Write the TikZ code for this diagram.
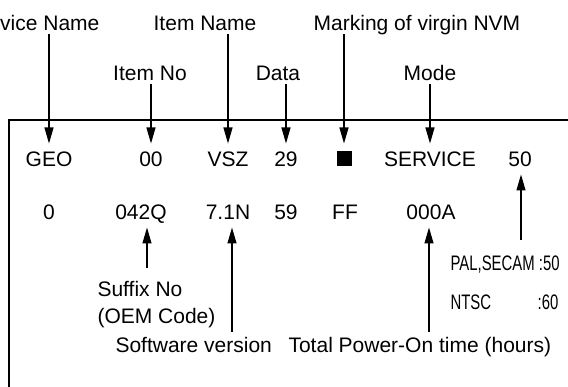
\documentclass[tikz,border=0pt]{standalone}
\usepackage{fontspec}
\setmainfont{Liberation Sans}
\usetikzlibrary{arrows.meta}

\begin{document}
\begin{tikzpicture}[x=1pt,y=-1pt,line width=1.1pt,
    txt/.style={font=\fontsize{21}{25}\selectfont,inner sep=0pt,text height=15pt,text depth=0pt},
    val/.style={txt,outer ysep=8pt},
    lbl/.style={txt,outer ysep=4pt},
    arr/.style={-{Triangle[length=16pt,width=9pt]}}]
  \useasboundingbox (0,0) rectangle (568,387);
  \draw (9,400) |- (580,120);
  % names above the box
  \node[lbl,anchor=east] (devname) at (100,23) {Device Name};
  \node[lbl] (itemname) at (205,23) {Item Name};
  \node[lbl] (marking) at (417,23) {Marking of virgin NVM};
  \node[lbl] (itemno) at (150,73) {Item No};
  \node[lbl] (data) at (278,73) {Data};
  \node[lbl] (mode) at (430,73) {Mode};
  % first line
  \node[val] (geo) at (49,159) {GEO};
  \node[val] (no) at (151,159) {00};
  \node[val] (vsz) at (228,159) {VSZ};
  \node[val] (dat) at (286,159) {29};
  \node[fill,minimum size=15pt,inner sep=0pt,outer ysep=8pt] (mark) at (344,159) {};
  \node[val] (serv) at (430,159) {SERVICE};
  \node[val] (freq) at (520,159) {50};
  % second line
  \node[val] (zero) at (49,212) {0};
  \node[val] (sfx) at (141,212) {042Q};
  \node[val] (sw) at (228,212) {7.1N};
  \node[val] (fiftynine) at (286,212) {59};
  \node[val] (ff) at (345,212) {FF};
  \node[val] (hours) at (431,212) {000A};
  % names below
  \node[txt,anchor=west] (suffix) at (97,289) {Suffix No};
  \node[txt,anchor=west] (oem) at (97,316) {(OEM Code)};
  \node[txt,anchor=west] (swver) at (115,345) {Software version};
  \node[txt,anchor=west] (power) at (288,345) {Total Power-On time (hours)};
  \node[txt,anchor=west] (pal) at (450,263) {\scalebox{0.71}[1]{PAL,SECAM :50}};
  \node[txt,anchor=west] (ntsc) at (450,302) {\scalebox{0.71}[1]{NTSC}};
  \node[txt,anchor=east] (sixty) at (559,302) {\scalebox{0.71}[1]{:60}};
  \draw[arr] (devname.south -| geo) -- (geo.north);
  \draw[arr] (itemno.south -| no) -- (no.north);
  \draw[arr] (itemname.south -| vsz) -- (vsz.north);
  \draw[arr] (data.south -| dat) -- (dat.north);
  \draw[arr] (marking.south -| mark) -- (mark.north);
  \draw[arr] (mode.south -| serv) -- (serv.north);
  \coordinate (sfxtail) at (147,268);
  \coordinate (swtail) at (232,332);
  \coordinate (hrtail) at (429,332);
  \coordinate (freqtail) at (521,240);
  \draw[arr] (sfxtail) -- (sfxtail |- sfx.south);
  \draw[arr] (swtail) -- (swtail |- sw.south);
  \draw[arr] (hrtail) -- (hrtail |- hours.south);
  \draw[arr] (freqtail) -- (freqtail |- freq.south);
\end{tikzpicture}
\end{document}
